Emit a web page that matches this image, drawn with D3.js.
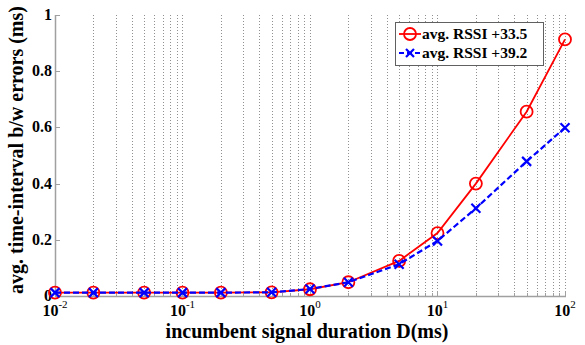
<!DOCTYPE html>
<html>
<head>
<meta charset="utf-8">
<script src="https://cdn.jsdelivr.net/npm/d3@7"></script>
<style>
body { margin: 0; background: #fff; }
text { font-family: "Liberation Serif", "Times New Roman", serif; font-weight: bold; fill: #000; }
</style>
</head>
<body>
<div id="chart"></div>
<script>
// ----------------------------------------------------------
// DATA -----------------------------------------------------
// ----------------------------------------------------------
var durations = [0.01, 0.02, 0.05, 0.1, 0.2, 0.5, 1, 2, 5, 10, 20, 50, 100];
var rssi_335 = [0.012, 0.012, 0.012, 0.012, 0.012, 0.013, 0.024, 0.049, 0.125, 0.224, 0.40, 0.656, 0.913];
var rssi_392 = [0.012, 0.012, 0.012, 0.012, 0.012, 0.013, 0.025, 0.049, 0.113, 0.196, 0.312, 0.479, 0.599];
var series_names = ["avg. RSSI +33.5", "avg. RSSI +39.2"];
var y_ticks = [0, 0.2, 0.4, 0.6, 0.8, 1];
var x_major = [-2, -1, 0, 1, 2];

// ----------------------------------------------------------
// STRUCTURE ------------------------------------------------
// ----------------------------------------------------------
var W = 585, H = 345;
var plot = { left: 55, right: 565, top: 15, bottom: 296 };

var svg = d3.select("#chart").append("svg")
  .attr("width", W)
  .attr("height", H);

var x = d3.scaleLog().domain([0.01, 100]).range([plot.left, plot.right]);
var y = d3.scaleLinear().domain([0, 1]).range([plot.bottom, plot.top]);

// grid - all decade + minor ticks
var gridVals = [];
for (var e = -2; e < 2; e++) {
  for (var m = 1; m <= 9; m++) gridVals.push(m * Math.pow(10, e));
}
gridVals.push(100);

svg.append("g").attr("class", "grid")
  .selectAll("line")
  .data(gridVals.filter(function(d) { return d > 0.01; }))
  .enter().append("line")
  .attr("x1", function(d) { return Math.round(x(d)) + 0.5; })
  .attr("x2", function(d) { return Math.round(x(d)) + 0.5; })
  .attr("y1", plot.top)
  .attr("y2", plot.bottom)
  .attr("stroke", "#909090")
  .attr("stroke-width", 1)
  .attr("stroke-dasharray", "1,2");

// axes lines
svg.append("line")
  .attr("x1", plot.left + 0.5).attr("x2", plot.left + 0.5)
  .attr("y1", plot.top).attr("y2", plot.bottom + 0.5)
  .attr("stroke", "#a0a0a0").attr("stroke-width", 1.5);
svg.append("line")
  .attr("x1", plot.left).attr("x2", plot.right + 1)
  .attr("y1", plot.bottom + 0.5).attr("y2", plot.bottom + 0.5)
  .attr("stroke", "#a0a0a0").attr("stroke-width", 1.5);

// y ticks
var yAxis = svg.append("g");
y_ticks.forEach(function(t) {
  yAxis.append("line")
    .attr("x1", plot.left).attr("x2", plot.left + 5)
    .attr("y1", Math.round(y(t)) + 0.5).attr("y2", Math.round(y(t)) + 0.5)
    .attr("stroke", "#a0a0a0");
  yAxis.append("text")
    .attr("x", plot.left - 3)
    .attr("y", y(t) + 5)
    .attr("text-anchor", "end")
    .style("font-size", "16px")
    .text(t === 0 ? "0" : (t === 1 ? "1" : d3.format(".1f")(t)));
});

// x ticks
var xAxis = svg.append("g");
gridVals.forEach(function(d) {
  var isMajor = Math.abs(Math.log10(d) - Math.round(Math.log10(d))) < 1e-9;
  xAxis.append("line")
    .attr("x1", Math.round(x(d)) + 0.5).attr("x2", Math.round(x(d)) + 0.5)
    .attr("y1", plot.bottom).attr("y2", plot.bottom - (isMajor ? 5 : 3))
    .attr("stroke", "#a0a0a0");
});
x_major.forEach(function(e) {
  var t = xAxis.append("text")
    .attr("x", x(Math.pow(10, e)))
    .attr("y", 316)
    .attr("text-anchor", "middle")
    .style("font-size", "16px");
  t.append("tspan").text("10");
  t.append("tspan").attr("dy", -8).style("font-size", "11px").style("font-weight", "normal").text(String(e));
});

// ----------------------------------------------------------
// GFX ------------------------------------------------------
// ----------------------------------------------------------
var line = d3.line()
  .x(function(d) { return x(d[0]); })
  .y(function(d) { return y(d[1]); });

var red = d3.zip(durations, rssi_335);
var blue = d3.zip(durations, rssi_392);

svg.append("path")
  .datum(red)
  .attr("d", line)
  .attr("fill", "none")
  .attr("stroke", "#ff0000")
  .attr("stroke-width", 1.8);

svg.append("g").selectAll("circle")
  .data(red)
  .enter().append("circle")
  .attr("cx", function(d) { return x(d[0]); })
  .attr("cy", function(d) { return y(d[1]); })
  .attr("r", 6)
  .attr("fill", "none")
  .attr("stroke", "#ff0000")
  .attr("stroke-width", 1.8);

svg.append("path")
  .datum(blue)
  .attr("d", line)
  .attr("fill", "none")
  .attr("stroke", "#0000ff")
  .attr("stroke-width", 2.2)
  .attr("stroke-dasharray", "6,3");

function cross(g, cx, cy, s) {
  g.append("path")
    .attr("d", "M" + (cx - s) + "," + (cy - s) + "L" + (cx + s) + "," + (cy + s) +
               "M" + (cx - s) + "," + (cy + s) + "L" + (cx + s) + "," + (cy - s))
    .attr("stroke", "#0000ff")
    .attr("stroke-width", 2.2);
}
var crosses = svg.append("g");
blue.forEach(function(d) { cross(crosses, x(d[0]), y(d[1]), 4.5); });

// ----------------------------------------------------------
// LEGEND ---------------------------------------------------
// ----------------------------------------------------------
var lg = svg.append("g").attr("transform", "translate(395,22)");
lg.append("rect")
  .attr("x", 0.5).attr("y", 0.5)
  .attr("width", 148).attr("height", 43)
  .attr("fill", "#fff")
  .attr("stroke", "#606060");
lg.append("line").attr("x1", 4).attr("x2", 26).attr("y1", 12).attr("y2", 12)
  .attr("stroke", "#ff0000").attr("stroke-width", 1.8);
lg.append("circle").attr("cx", 15).attr("cy", 12).attr("r", 6)
  .attr("fill", "none").attr("stroke", "#ff0000").attr("stroke-width", 1.8);
lg.append("line").attr("x1", 4).attr("x2", 26).attr("y1", 31).attr("y2", 31)
  .attr("stroke", "#0000ff").attr("stroke-width", 2.2).attr("stroke-dasharray", "5,3");
cross(lg, 15, 31, 4);
lg.selectAll("text.leg")
  .data(series_names)
  .enter().append("text")
  .attr("class", "leg")
  .attr("x", 27)
  .attr("y", function(d, i) { return 17 + i * 19; })
  .style("font-size", "15.5px")
  .text(function(d) { return d; });

// ----------------------------------------------------------
// TEXT -----------------------------------------------------
// ----------------------------------------------------------
svg.append("text")
  .attr("x", 307)
  .attr("y", 338)
  .attr("text-anchor", "middle")
  .style("font-size", "20px")
  .text("incumbent signal duration D(ms)");

svg.append("text")
  .attr("transform", "translate(23,150)rotate(-90)")
  .attr("text-anchor", "middle")
  .style("font-size", "20px")
  .text("avg. time-interval b/w errors (ms)");
</script>
</body>
</html>
